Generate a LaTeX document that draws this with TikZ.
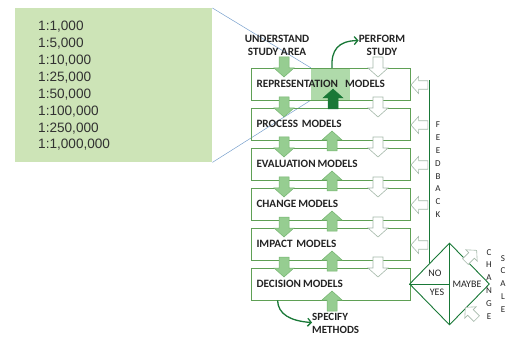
\documentclass[tikz,border=0pt]{standalone}
\usepackage{fontspec}
\setmainfont{Carlito}
\newfontfamily\arialfont{Liberation Sans}
\usetikzlibrary{shapes.geometric,arrows.meta}

\definecolor{scalegreen}{RGB}{205,228,183}
\definecolor{boxgreen}{RGB}{95,160,85}
\definecolor{arrowgreen}{RGB}{150,205,145}
\definecolor{arrowedge}{RGB}{115,180,110}
\definecolor{darkgreen}{RGB}{25,120,55}
\definecolor{hlgreen}{RGB}{175,218,170}
\definecolor{zoomblue}{RGB}{120,160,205}
\definecolor{whiteedge}{RGB}{165,185,170}
\definecolor{labelgray}{RGB}{35,35,35}
\definecolor{numgray}{RGB}{50,50,50}

\tikzset{
  modelbox/.style={draw=boxgreen,line width=0.8pt,minimum width=159pt,minimum height=32pt,
    text width=148pt,align=left,inner xsep=5.5pt,text=labelgray,
    font=\fontsize{11.2}{13}\selectfont\bfseries},
  toplabel/.style={align=center,inner sep=0,text=labelgray,font=\fontsize{11.2}{13.3}\selectfont\bfseries},
  vletters/.style={align=center,inner sep=0,anchor=north,text=labelgray,font=\fontsize{9}{12.8}\selectfont},
  blockarrow/.pic={\draw[pic actions] (-5,-10) -- (5,-10) -- (5,1) -- (10,1) -- (0,10) -- (-10,1) -- (-5,1) -- cycle;},
  greenarrow/.style={fill=arrowgreen,draw=arrowedge,line width=0.5pt},
  whitearrow/.style={fill=white,draw=whiteedge,line width=0.6pt},
  curvearrow/.style={darkgreen,line width=1.3pt,-{Straight Barb[length=3.5pt,width=8pt]}}
}

\begin{document}
\begin{tikzpicture}[x=1pt,y=-1pt]
\useasboundingbox (0,0) rectangle (515,337);
% scales
\node[fill=scalegreen,minimum width=197pt,minimum height=154pt,inner sep=0,anchor=north west] (scales) at (15,8) {};
\foreach \v [count=\i from 0] in {{1:1,000},{1:5,000},{1:10,000},{1:25,000},{1:50,000},{1:100,000},{1:250,000},{1:1,000,000}}
  \node[anchor=base west,inner sep=0,text=numgray,font=\arialfont\fontsize{13.6}{15}\selectfont] (s\i) at (38,31+16.85*\i) {\v};
\node[fill=hlgreen,minimum width=39pt,minimum height=32pt,inner sep=0] (hl) at (330.5,84) {};
\draw[zoomblue,line width=0.5pt] (scales.north east) -- (hl.north west);
\draw[zoomblue,line width=0.5pt] (scales.south east) -- (hl.south west);
% models
\foreach \n/\t [count=\i from 0] in {rep/REPRESENTATION\hspace{7pt}MODELS,proc/PROCESS MODELS,eval/EVALUATION\hspace{2pt}MODELS,chg/CHANGE\hspace{2pt}MODELS,imp/IMPACT MODELS,dec/DECISION\hspace{2pt}MODELS}
  \node[modelbox] (\n) at (330.5,84+40*\i) {\t};
\node[toplabel] (understand) at (277,45.5) {UNDERSTAND\\STUDY AREA};
\node[toplabel] (perform) at (382,45.5) {PERFORM\\STUDY};
\node[toplabel,align=left,anchor=north west,font=\fontsize{11}{12.4}\selectfont\bfseries] (specify) at (312,313.5) {SPECIFY\\METHODS};
% arrows between the boxes
\foreach \g in {64,104,144,184,224,264} {
  \pic[greenarrow] at (284,\g+3) {blockarrow};
  \pic[whitearrow] at (378,\g+3) {blockarrow};
}
\foreach \g in {144,184,224,264,304}
  \pic[greenarrow,rotate=180] at (332,\g-3) {blockarrow};
\pic[fill=darkgreen,draw=darkgreen,line width=0.5pt,rotate=180] at (333,99) {blockarrow};
\coordinate (repout) at (332,68);
\draw[curvearrow] (repout) .. controls (331,50) and (338,41) .. ([yshift=5pt]perform.west);
\draw[curvearrow] ([xshift=27pt]dec.south west) .. controls (278,314) and (290,321) .. ([yshift=1pt]specify.west);
% feedback
\node[draw=darkgreen,line width=0.9pt,diamond,aspect=1,minimum width=80pt,minimum height=82pt,inner sep=0] (choice) at (449.5,284) {};
\draw[darkgreen,line width=0.9pt] (choice.north) -- (choice.south);
\draw[darkgreen,line width=0.9pt] (choice.west) -- (choice.center);
\coordinate (fbtop) at (428,80);
\draw[darkgreen,line width=1.4pt] (choice.north west) -- (choice.north west |- fbtop);
\foreach \n in {rep,proc,eval,chg,imp}
  \pic[whitearrow,rotate=-90,scale=0.85] at ([xshift=9pt,yshift=-1pt]\n.east) {blockarrow};
\node[inner sep=0,font=\fontsize{10}{11}\selectfont,text=labelgray] (no) at (435,273) {NO};
\node[inner sep=0,font=\fontsize{10}{11}\selectfont,text=labelgray] (yes) at (437,292) {YES};
\node[inner sep=0,font=\fontsize{10}{11}\selectfont,text=labelgray] (maybe) at (467,284) {MAYBE};
\pic[whitearrow,rotate=135,scale=0.8] at (471,256) {blockarrow};
\pic[whitearrow,rotate=-135,scale=0.8] at (471,313) {blockarrow};
\node[vletters] (feedback) at (438,122) {F\\E\\E\\D\\B\\A\\C\\K};
\node[vletters] (change) at (489,249) {C\\H\\A\\N\\G\\E};
\node[vletters] (scale) at (503,255) {S\\C\\A\\L\\E};
\end{tikzpicture}
\end{document}
